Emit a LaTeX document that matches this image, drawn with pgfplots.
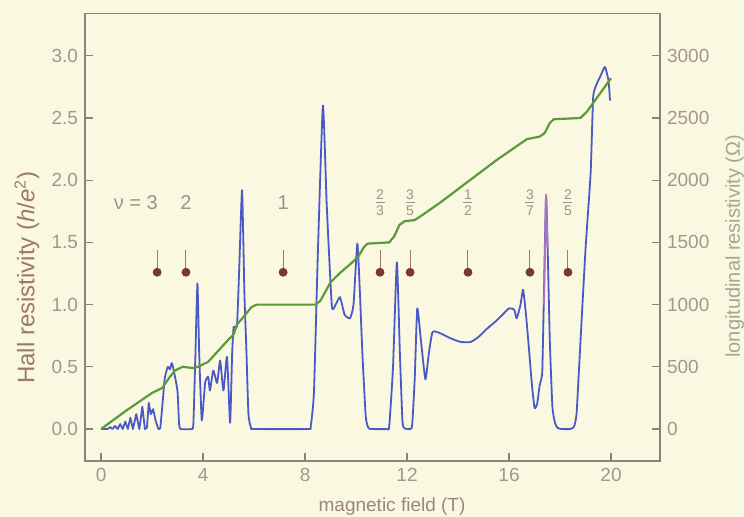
\documentclass[border=0pt]{standalone}
\usepackage{pgfplots}
\pgfplotsset{compat=1.18}
\usepackage{fontspec}
\setmainfont{Liberation Sans}
\usetikzlibrary{backgrounds}
\definecolor{bg}{HTML}{FBF8E2}
\definecolor{axcol}{HTML}{8E8272}
\definecolor{tickcol}{HTML}{A39888}
\definecolor{hallcol}{HTML}{5A9A3A}
\definecolor{rhocol}{HTML}{4A58C8}
\definecolor{llabcol}{HTML}{9C7A68}
\definecolor{rlabcol}{HTML}{A8A690}
\definecolor{xlabcol}{HTML}{9A8878}
\definecolor{anncol}{HTML}{A09282}
\definecolor{dotcol}{HTML}{7A3A28}
\definecolor{arrcol}{HTML}{9A7A6A}
\definecolor{pinkcol}{HTML}{B070C0}
\newcommand{\fr}[2]{\ensuremath{\vcenter{\hbox to 4.5pt{\hss\fontsize{7}{8}\selectfont #1\hss}\kern1.5pt\hrule width 4.5pt height 0.35pt\kern1.5pt\hbox to 4.5pt{\hss\fontsize{7}{8}\selectfont #2\hss}}}}
\begin{document}
\begin{tikzpicture}
\pgfplotsset{
  common/.style={
    scale only axis, width=287.5pt, height=223.75pt,
    xmin=-0.63, xmax=21.92,
    axis line style={axcol, line width=0.6pt},
    tick style={axcol, line width=0.6pt},
    major tick length=4pt,
    tick label style={tickcol, font=\fontsize{9.5}{11}\selectfont},
    /pgf/number format/assume math mode=true,
    clip=false,
  },
}
% longitudinal resistivity (right axis)
\begin{axis}[common, name=ax2,
  ymin=-257, ymax=3340,
  axis y line*=right, axis x line=none,
  ytick={0,500,1000,1500,2000,2500,3000},
  yticklabel style={/pgf/number format/1000 sep={}},
  ylabel={longitudinal resistivity (Ω)},
  ylabel style={font=\fontsize{10}{12}\selectfont, color=rlabcol, at={(axis description cs:1.13,0.48)}, anchor=center},
]
\addplot[rhocol, line width=0.9pt, line join=round] coordinates {
(0,0) (0.25,0) (0.35,15) (0.45,0) (0.55,25) (0.65,0) (0.75,40) (0.85,0) (0.95,60) (1.05,0) (1.15,90) (1.25,0) (1.38,120) (1.5,0) (1.62,180) (1.72,0) (1.8,10) (1.87,210) (1.95,120) (2.04,160) (2.15,60) (2.25,0) (2.32,0)
};
\addplot[rhocol, line width=0.9pt, line join=round, smooth, tension=0.3] coordinates {
(2.32,0) (2.4,180) (2.5,410) (2.62,500) (2.7,480) (2.78,530) (2.9,420) (3.0,300) (3.06,40) (3.12,0) (3.55,0) (3.62,40) (3.7,600) (3.78,1170) (3.85,600) (3.95,70) (4.08,370) (4.2,420) (4.27,310) (4.4,470) (4.55,370) (4.67,550) (4.8,310) (4.94,580) (5.06,50) (5.14,600) (5.2,820) (5.33,830) (5.42,1300) (5.53,1920) (5.62,1100) (5.7,630) (5.78,120) (5.88,10) (6.0,0) (8.1,0) (8.22,20) (8.35,300) (8.5,1400) (8.7,2600) (8.85,1800) (9.05,990) (9.2,1000) (9.37,1060) (9.55,920) (9.76,890) (9.9,1000) (10.05,1490) (10.15,1100) (10.25,600) (10.38,100) (10.48,10) (10.6,0) (11.2,0) (11.3,20) (11.45,500) (11.6,1340) (11.72,600) (11.82,60) (11.9,5) (12.0,0) (12.12,0) (12.2,30) (12.3,400) (12.4,970) (12.55,700) (12.72,400) (12.85,600) (13.0,780) (13.3,770) (13.7,730) (14.1,700) (14.5,700) (14.8,740) (15.1,800) (15.5,870) (15.8,930) (16.0,970) (16.2,960) (16.3,890) (16.45,1000) (16.55,1120) (16.65,950) (16.75,720) (16.9,350) (17.0,170) (17.1,200) (17.2,350) (17.3,450) (17.35,900) (17.45,1880) (17.52,1400) (17.6,700) (17.7,180) (17.8,50) (17.9,10) (18.05,0) (18.4,0) (18.55,20) (18.65,130) (18.8,700) (19.0,1450) (19.2,2060) (19.3,2670) (19.45,2780) (19.57,2830) (19.76,2910) (19.9,2800) (19.96,2640)
};
\addplot[pinkcol, line width=0.9pt, line join=round] coordinates {
(17.37,1000) (17.45,1880) (17.51,1450)
};
\end{axis}
% Hall resistivity (left axis)
\begin{axis}[common, name=ax1,
  ymin=-0.257, ymax=3.34,
  xtick pos=bottom, ytick pos=left,
  xtick={0,4,8,12,16,20},
  ytick={0,0.5,1,1.5,2,2.5,3},
  yticklabel style={/pgf/number format/.cd, fixed, fixed zerofill, precision=1},
  xlabel={magnetic field (T)},
  xlabel style={font=\fontsize{9.5}{11}\selectfont, color=xlabcol, at={(axis description cs:0.534,-0.103)}, anchor=center},
  ylabel={Hall resistivity (\textit{h}/\textit{e}\textsuperscript{2})},
  ylabel style={font=\fontsize{12}{14}\selectfont, color=llabcol, at={(axis description cs:-0.101,0.41)}, anchor=center},
]
\addplot[hallcol, line width=1.1pt, line join=round] coordinates {
(0,0) (1.0,0.15) (2.0,0.29) (2.4,0.33) (2.7,0.42) (2.9,0.47) (3.2,0.50) (3.6,0.49) (3.8,0.50) (4.2,0.54) (4.6,0.63) (5.0,0.72) (5.2,0.76) (5.33,0.84) (5.5,0.88) (5.7,0.93) (5.9,0.98) (6.1,1.0) (8.4,1.0) (8.6,1.03) (9.0,1.18) (9.4,1.26) (9.8,1.33) (10.1,1.39) (10.3,1.46) (10.45,1.49) (11.3,1.50) (11.5,1.55) (11.7,1.64) (11.9,1.67) (12.3,1.68) (12.6,1.72) (13.3,1.82) (14.4,1.99) (15.5,2.16) (16.7,2.33) (17.2,2.35) (17.4,2.38) (17.6,2.46) (17.75,2.49) (18.8,2.50) (19.05,2.55) (20,2.82)
};
% arrows and dots marking filling factors
\addplot[only marks, mark=*, mark size=2pt, mark options={dotcol, fill=dotcol},
  error bars/.cd, y dir=plus, y explicit, error mark=none,
  error bar style={arrcol, line width=0.5pt}] coordinates {
(2.2,1.26) +- (0,0.18)
(3.33,1.26) +- (0,0.18)
(7.14,1.26) +- (0,0.18)
(10.94,1.26) +- (0,0.18)
(12.12,1.26) +- (0,0.18)
(14.39,1.26) +- (0,0.18)
(16.82,1.26) +- (0,0.18)
(18.31,1.26) +- (0,0.18)
};
\begin{scope}[every node/.style={anncol, font=\fontsize{10}{12}\selectfont}]
\node[anchor=east] at (axis cs:2.5,1.82) {ν = 3};
\node at (axis cs:3.33,1.82) {2};
\node at (axis cs:7.14,1.82) {1};
\node at (axis cs:10.94,1.82) {\fr{2}{3}};
\node at (axis cs:12.12,1.82) {\fr{3}{5}};
\node at (axis cs:14.39,1.82) {\fr{1}{2}};
\node at (axis cs:16.82,1.82) {\fr{3}{7}};
\node at (axis cs:18.31,1.82) {\fr{2}{5}};
\end{scope}
\end{axis}
\pgfresetboundingbox
\path[use as bounding box] ([xshift=-42.5pt,yshift=-28pt]ax1.south west) rectangle ([xshift=42pt,yshift=6.75pt]ax1.north east);
\begin{pgfonlayer}{background}
\fill[bg] ([xshift=-42.5pt,yshift=-28pt]ax1.south west) rectangle ([xshift=42pt,yshift=6.75pt]ax1.north east);
\end{pgfonlayer}
\end{tikzpicture}
\end{document}
